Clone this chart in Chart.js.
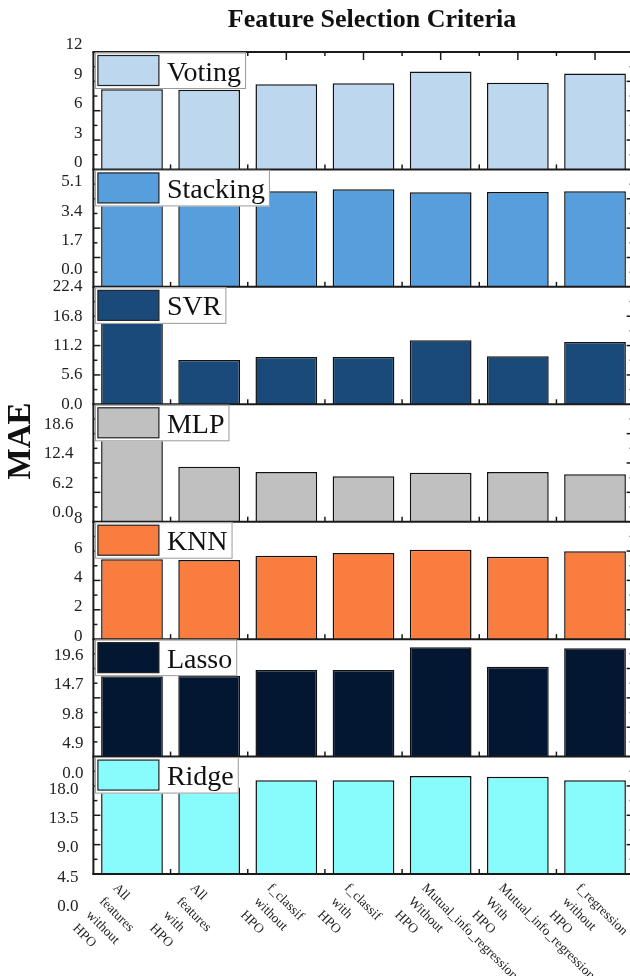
<!DOCTYPE html>
<html><head><meta charset="utf-8">
<script src="https://cdn.jsdelivr.net/npm/chart.js@4.4.1/dist/chart.umd.min.js"></script>
<style>html,body{margin:0;padding:0;background:#fff;overflow:hidden;width:630px;height:976px}canvas{display:block}</style>
</head><body>
<canvas id="c" width="640" height="976"></canvas>
<script>
// ---- data ----
const categories = [
  ["All","features","without","HPO"],
  ["All","features","with","HPO"],
  ["f_classif","without","HPO"],
  ["f_classif","with","HPO"],
  ["Mutual_info_regression","Without","HPO"],
  ["Mutual_info_regression","With","HPO"],
  ["f_regression","without","HPO"]
];
const models = ["Voting","Stacking","SVR","MLP","KNN","Lasso","Ridge"];

const votingMAE   = [8.2, 8.15, 8.7, 8.8, 10.0, 8.85, 9.8];
const stackingMAE = [5.4, 5.4, 5.54, 5.65, 5.48, 5.5, 5.54];
const svrMAE      = [16.5, 8.45, 9.03, 9.03, 12.2, 9.16, 11.9];
const mlpMAE      = [18.0, 11.6, 10.5, 9.6, 10.35, 10.5, 10.0];
const knnMAE      = [5.45, 5.39, 5.68, 5.87, 6.09, 5.61, 5.98];
const lassoMAE    = [13.4, 13.5, 14.45, 14.45, 18.23, 15.0, 18.1];
const ridgeMAE    = [13.3, 13.24, 14.37, 14.37, 15.03, 14.92, 14.37];

const votingTicks   = [0, 3, 6, 9, 12];          const votingTickLabels   = ["0","3","6","9","12"];
const stackingTicks = [0, 1.7, 3.4, 5.1];        const stackingTickLabels = ["0.0","1.7","3.4","5.1"];
const svrTicks      = [0, 5.6, 11.2, 16.8, 22.4];const svrTickLabels      = ["0.0","5.6","11.2","16.8","22.4"];
const mlpTicks      = [0, 6.2, 12.4, 18.6];      const mlpTickLabels      = ["0.0","6.2","12.4","18.6"];
const knnTicks      = [0, 2, 4, 6, 8];           const knnTickLabels      = ["0","2","4","6","8"];
const lassoTicks    = [0, 4.9, 9.8, 14.7, 19.6]; const lassoTickLabels    = ["0.0","4.9","9.8","14.7","19.6"];
const ridgeTicks    = [0, 4.5, 9, 13.5, 18];     const ridgeTickLabels    = ["0.0","4.5","9.0","13.5","18.0"];
const axisMax = [12, 6.8, 22.4, 24.8, 8, 19.6, 18];

// ---- styles ----
const panels = [
  {id:'yVoting',   data:votingMAE,   ticks:votingTicks,   labels:votingTickLabels,   color:'#BDD7EE', off:-7,   pad:11},
  {id:'yStacking', data:stackingMAE, ticks:stackingTicks, labels:stackingTickLabels, color:'#569EDC', off:-17,  pad:11},
  {id:'ySVR',      data:svrMAE,      ticks:svrTicks,      labels:svrTickLabels,      color:'#1A4A7A', off:0,    pad:11},
  {id:'yMLP',      data:mlpMAE,      ticks:mlpTicks,      labels:mlpTickLabels,      color:'#C0C0C0', off:-9,   pad:20},
  {id:'yKNN',      data:knnMAE,      ticks:knnTicks,      labels:knnTickLabels,      color:'#F97D3E', off:-3,   pad:11},
  {id:'yLasso',    data:lassoMAE,    ticks:lassoTicks,    labels:lassoTickLabels,    color:'#041732', off:16.5, pad:10},
  {id:'yRidge',    data:ridgeMAE,    ticks:ridgeTicks,    labels:ridgeTickLabels,    color:'#88FCFC', off:32.5, pad:15}
];
panels.forEach((p,i)=>{p.name = models[i]; p.max = axisMax[i];});

const SERIF = '"Liberation Serif","Times New Roman",serif';

const scales = {
  x: {type:'category', display:false, offset:true, grid:{display:false}, ticks:{autoSkip:false}}
};
// first declared is placed at the bottom of the stack
[...panels].reverse().forEach(p=>{
  scales[p.id] = {
    type:'linear', position:'left', stack:'panels', stackWeight:1,
    min:0, max:p.max, offset:false,
    grid:{display:false, drawTicks:false},
    border:{display:false},
    afterBuildTicks:(s)=>{ s.ticks = p.ticks.map(v=>({value:v})); },
    afterFit:(s)=>{ s.width = 93.4; },
    ticks:{
      autoSkip:false, padding:p.pad, labelOffset:p.off, color:'#222',
      font:{family:SERIF, size:17},
      callback:(v,i)=>p.labels[i]
    }
  };
});

function line(ctx,x1,y1,x2,y2){ctx.beginPath();ctx.moveTo(x1,y1);ctx.lineTo(x2,y2);ctx.stroke();}

const decorPlugin = {
  id:'decor',
  afterDatasetsDraw(chart){
    const ctx = chart.ctx, ca = chart.chartArea, xs = chart.scales.x;
    const n = categories.length;
    const centers = categories.map((_,i)=>xs.getPixelForValue(i));
    const bounds = [];
    for(let i=0;i<n-1;i++) bounds.push((centers[i]+centers[i+1])/2);
    ctx.save();
    ctx.strokeStyle = '#1a1a1a';
    ctx.lineCap = 'butt';
    panels.forEach(p=>{
      const ys = chart.scales[p.id];
      const half = (p.ticks[1]-p.ticks[0])/2;
      ctx.lineWidth = 1.5;
      for(let k=1; k*half < p.max-1e-6; k++){
        const y = ys.getPixelForValue(k*half);
        const len = (k%2===0)?7:4;
        line(ctx,ca.left,y,ca.left+len,y);
        line(ctx,ca.right,y,ca.right-len,y);
      }
      bounds.forEach(x=>line(ctx,x,ys.bottom,x,ys.bottom-5));
      ctx.lineWidth = 2;
      line(ctx,ca.left-1,ys.bottom,ca.right+1,ys.bottom);
    });
    const topY = chart.scales[panels[0].id].top;
    ctx.lineWidth = 2;
    line(ctx,ca.left-1,topY,ca.right+1,topY);
    ctx.lineWidth = 1.5;
    centers.forEach(x=>line(ctx,x,topY,x,topY+8));
    bounds.forEach(x=>line(ctx,x,topY,x,topY+4));
    ctx.lineWidth = 2;
    line(ctx,ca.left,ca.top,ca.left,ca.bottom+1);
    line(ctx,ca.right,ca.top,ca.right,ca.bottom+1);

    // legend boxes
    ctx.font = '28px ' + SERIF;
    panels.forEach(p=>{
      const ys = chart.scales[p.id];
      const x0 = ca.left+1.5, y0 = ys.top+0.5;
      const tw = ctx.measureText(p.name).width;
      const w = 72+tw+5, h = 36.5;
      ctx.fillStyle = '#fff';
      ctx.fillRect(x0,y0,w,h);
      ctx.lineWidth = 1; ctx.strokeStyle = '#9a9a9a';
      ctx.strokeRect(x0+0.5,y0+0.5,w-1,h-1);
      ctx.fillStyle = p.color;
      ctx.fillRect(x0+3,y0+3,61,30);
      ctx.strokeStyle = '#222'; ctx.lineWidth = 1.2;
      ctx.strokeRect(x0+3,y0+3,61,30);
      ctx.fillStyle = '#111';
      ctx.textAlign = 'left'; ctx.textBaseline = 'alphabetic';
      ctx.fillText(p.name, x0+72, y0+28);
    });

    // x category labels (rotated, multi-line)
    const bottom = chart.scales[panels[panels.length-1].id].bottom;
    ctx.font = '13.5px ' + SERIF;
    ctx.fillStyle = '#222';
    ctx.textAlign = 'left'; ctx.textBaseline = 'middle';
    categories.forEach((lines,i)=>{
      ctx.save();
      ctx.translate(centers[i]-17, bottom+12);
      ctx.rotate(Math.PI/4);
      lines.forEach((t,k)=>ctx.fillText(t,0,k*19));
      ctx.restore();
    });

    // title
    ctx.font = 'bold 26px ' + SERIF;
    ctx.fillStyle = '#111';
    ctx.textAlign = 'center'; ctx.textBaseline = 'alphabetic';
    ctx.fillText('Feature Selection Criteria', (ca.left+ca.right)/2+8.5, 27);

    // y title
    ctx.save();
    ctx.translate(21.5, (ca.top+ca.bottom)/2-22);
    ctx.rotate(-Math.PI/2);
    ctx.font = 'bold 33px ' + SERIF;
    ctx.textAlign = 'center'; ctx.textBaseline = 'middle';
    ctx.fillText('MAE',0,0);
    ctx.restore();
    ctx.restore();
  }
};

new Chart(document.getElementById('c'), {
  type:'bar',
  data:{
    labels: categories.map(c=>c.join(' ')),
    datasets: panels.map(p=>({
      label:p.name, data:p.data, yAxisID:p.id, xAxisID:'x',
      backgroundColor:p.color, borderColor:'#111', borderWidth:1.5,
      grouped:false, categoryPercentage:1, barPercentage:0.8
    }))
  },
  options:{
    responsive:false, animation:false, devicePixelRatio:1,
    layout:{padding:{left:0, top:52, right:6.4, bottom:102}},
    plugins:{legend:{display:false}, title:{display:false}, tooltip:{enabled:false}},
    scales
  },
  plugins:[decorPlugin]
});
</script>
</body></html>
